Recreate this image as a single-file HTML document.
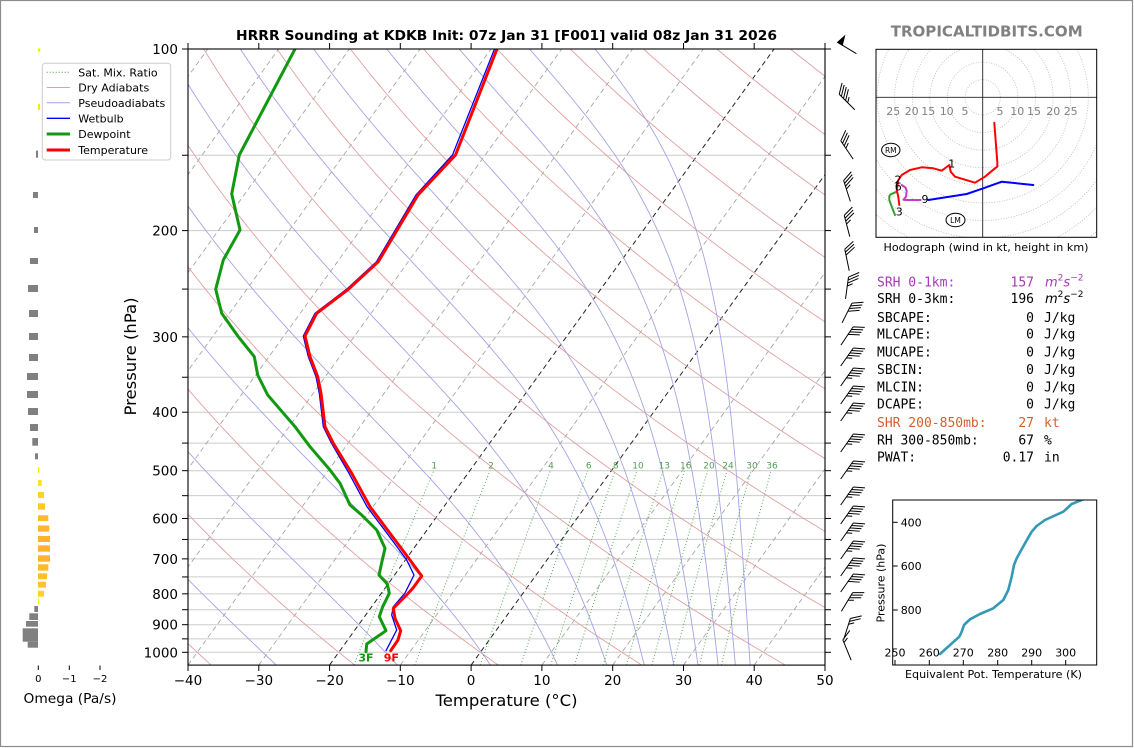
<!DOCTYPE html>
<html><head><meta charset="utf-8">
<style>
html,body{margin:0;padding:0;background:#fff;}
svg{position:absolute;left:0;top:0;}
text{font-family:"DejaVu Sans","Liberation Sans",sans-serif;}
.mono{font-family:"DejaVu Sans Mono","Liberation Mono",monospace;font-size:13px;}
</style></head><body>
<svg width="1134" height="748" viewBox="0 0 1134 748" xmlns="http://www.w3.org/2000/svg">
<defs>
<clipPath id="pc"><rect x="188" y="49" width="637" height="616.1"/></clipPath>
<clipPath id="hc"><rect x="876" y="49.3" width="220.7" height="188"/></clipPath>
<clipPath id="ic"><rect x="892.7" y="500" width="204" height="165"/></clipPath>
</defs>
<rect x="0" y="0" width="1134" height="748" fill="#fff"/>
<rect x="0.5" y="0.5" width="1132" height="746" fill="none" stroke="#8c8c8c" stroke-width="1.2"/>

<!-- pressure grid -->
<g stroke="#cccccc" stroke-width="1" clip-path="url(#pc)">
<line x1="188" x2="825" y1="155.24" y2="155.24"/><line x1="188" x2="825" y1="230.61" y2="230.61"/>
<line x1="188" x2="825" y1="289.08" y2="289.08"/><line x1="188" x2="825" y1="336.85" y2="336.85"/>
<line x1="188" x2="825" y1="377.24" y2="377.24"/><line x1="188" x2="825" y1="412.22" y2="412.22"/>
<line x1="188" x2="825" y1="443.08" y2="443.08"/><line x1="188" x2="825" y1="470.69" y2="470.69"/>
<line x1="188" x2="825" y1="495.66" y2="495.66"/><line x1="188" x2="825" y1="518.46" y2="518.46"/>
<line x1="188" x2="825" y1="539.43" y2="539.43"/><line x1="188" x2="825" y1="558.85" y2="558.85"/>
<line x1="188" x2="825" y1="576.93" y2="576.93"/><line x1="188" x2="825" y1="593.83" y2="593.83"/>
<line x1="188" x2="825" y1="609.72" y2="609.72"/><line x1="188" x2="825" y1="624.69" y2="624.69"/>
<line x1="188" x2="825" y1="638.86" y2="638.86"/><line x1="188" x2="825" y1="652.3" y2="652.3"/>
</g>
<g id="iso" clip-path="url(#pc)"></g>
<g id="dry" clip-path="url(#pc)"></g>
<g id="moist" clip-path="url(#pc)"></g>
<g id="mix" clip-path="url(#pc)"></g>

<!-- mixing ratio labels -->
<g fill="#4f9f4f" font-size="9" text-anchor="middle">
<text x="434.3" y="468.5">1</text><text x="491" y="468.5">2</text><text x="551" y="468.5">4</text>
<text x="588.7" y="468.5">6</text><text x="615.7" y="468.5">8</text><text x="638" y="468.5">10</text>
<text x="664.3" y="468.5">13</text><text x="685.7" y="468.5">16</text><text x="709" y="468.5">20</text>
<text x="728" y="468.5">24</text><text x="752" y="468.5">30</text><text x="772" y="468.5">36</text>
</g>

<!-- profiles -->
<g clip-path="url(#pc)" fill="none" stroke-linejoin="round" stroke-linecap="round">
<polyline stroke="#0000ff" stroke-width="1.3" points="494.5,49 452.5,155 416,195 376.5,261.7 346.5,289.3 315,313.3 303.3,336 308.3,356.7 316,376.7 319.3,393.3 323.3,426.7 331.5,443.3 349,473.3 367,506.7 392,540 406.7,560 414,575 405,593 393.3,606.7 391.7,615 396.7,630 386,650.7"/>
<polyline stroke="#119911" stroke-width="3" points="295,49 239.3,155 231.7,194 240,230 223.3,260 215.7,289.3 221.7,313.3 238.3,336.7 254.3,356.7 257.7,375 267.7,395 295,426.7 310,446.7 330,470 340,483.3 350,505 361.7,515 376.7,530 385,548.3 382.3,560 379,575 387.3,584 389.3,593.3 382.7,606.7 379.3,616.7 386,630.7 366.7,644 366,651.7"/>
<polyline stroke="#ff0000" stroke-width="3" points="497,49 455.5,155 418,195 378.3,261.7 348.3,289.3 316.7,313.3 305,336 310,356.7 317.7,376.7 321,393.3 325,426.7 333.3,443.3 351.7,473.3 370,506.7 395,540 410,560 421.7,576 413,588 408,593.5 393.3,608.3 395,618.3 400.7,630.7 398,640 390.7,650.7"/>
</g>
<text x="366" y="661.5" font-size="11" font-weight="bold" fill="#119911" text-anchor="middle">3F</text>
<text x="391.3" y="661.5" font-size="11" font-weight="bold" fill="#ff0000" text-anchor="middle">9F</text>

<!-- axes frame -->
<rect x="188" y="49" width="637" height="616.1" fill="none" stroke="#000" stroke-width="1.1"/>
<g stroke="#000" stroke-width="1">
<!-- left ticks -->
<line x1="182" x2="188" y1="49" y2="49"/><line x1="182" x2="188" y1="155.24" y2="155.24"/><line x1="182" x2="188" y1="230.61" y2="230.61"/>
<line x1="182" x2="188" y1="289.08" y2="289.08"/><line x1="182" x2="188" y1="336.85" y2="336.85"/><line x1="182" x2="188" y1="377.24" y2="377.24"/>
<line x1="182" x2="188" y1="412.22" y2="412.22"/><line x1="182" x2="188" y1="443.08" y2="443.08"/><line x1="182" x2="188" y1="470.69" y2="470.69"/>
<line x1="182" x2="188" y1="495.66" y2="495.66"/><line x1="182" x2="188" y1="518.46" y2="518.46"/><line x1="182" x2="188" y1="539.43" y2="539.43"/>
<line x1="182" x2="188" y1="558.85" y2="558.85"/><line x1="182" x2="188" y1="576.93" y2="576.93"/><line x1="182" x2="188" y1="593.83" y2="593.83"/>
<line x1="182" x2="188" y1="609.72" y2="609.72"/><line x1="182" x2="188" y1="624.69" y2="624.69"/><line x1="182" x2="188" y1="638.86" y2="638.86"/>
<line x1="182" x2="188" y1="652.3" y2="652.3"/>
<!-- right ticks -->
<line x1="825" x2="831" y1="49" y2="49"/><line x1="825" x2="831" y1="155.24" y2="155.24"/><line x1="825" x2="831" y1="230.61" y2="230.61"/>
<line x1="825" x2="831" y1="289.08" y2="289.08"/><line x1="825" x2="831" y1="336.85" y2="336.85"/><line x1="825" x2="831" y1="377.24" y2="377.24"/>
<line x1="825" x2="831" y1="412.22" y2="412.22"/><line x1="825" x2="831" y1="443.08" y2="443.08"/><line x1="825" x2="831" y1="470.69" y2="470.69"/>
<line x1="825" x2="831" y1="495.66" y2="495.66"/><line x1="825" x2="831" y1="518.46" y2="518.46"/><line x1="825" x2="831" y1="539.43" y2="539.43"/>
<line x1="825" x2="831" y1="558.85" y2="558.85"/><line x1="825" x2="831" y1="576.93" y2="576.93"/><line x1="825" x2="831" y1="593.83" y2="593.83"/>
<line x1="825" x2="831" y1="609.72" y2="609.72"/><line x1="825" x2="831" y1="624.69" y2="624.69"/><line x1="825" x2="831" y1="638.86" y2="638.86"/>
<line x1="825" x2="831" y1="652.3" y2="652.3"/>
<!-- bottom & top ticks -->
<line x1="188" x2="188" y1="665" y2="671"/><line x1="258.8" x2="258.8" y1="665" y2="671"/><line x1="329.6" x2="329.6" y1="665" y2="671"/>
<line x1="400.3" x2="400.3" y1="665" y2="671"/><line x1="471.1" x2="471.1" y1="665" y2="671"/><line x1="541.9" x2="541.9" y1="665" y2="671"/>
<line x1="612.7" x2="612.7" y1="665" y2="671"/><line x1="683.5" x2="683.5" y1="665" y2="671"/><line x1="754.2" x2="754.2" y1="665" y2="671"/>
<line x1="825" x2="825" y1="665" y2="671"/>
<line x1="188" x2="188" y1="43" y2="49"/><line x1="258.8" x2="258.8" y1="43" y2="49"/><line x1="329.6" x2="329.6" y1="43" y2="49"/>
<line x1="400.3" x2="400.3" y1="43" y2="49"/><line x1="471.1" x2="471.1" y1="43" y2="49"/><line x1="541.9" x2="541.9" y1="43" y2="49"/>
<line x1="612.7" x2="612.7" y1="43" y2="49"/><line x1="683.5" x2="683.5" y1="43" y2="49"/><line x1="754.2" x2="754.2" y1="43" y2="49"/>
<line x1="825" x2="825" y1="43" y2="49"/>
</g>
<g font-size="13.5" text-anchor="end" fill="#000">
<text x="178" y="54">100</text><text x="178" y="235.6">200</text><text x="178" y="341.8">300</text>
<text x="178" y="417.2">400</text><text x="178" y="475.7">500</text><text x="178" y="523.5">600</text>
<text x="178" y="563.8">700</text><text x="178" y="598.8">800</text><text x="178" y="629.7">900</text>
<text x="178" y="657.3">1000</text>
</g>
<g font-size="13.5" text-anchor="middle" fill="#000">
<text x="188" y="685">−40</text><text x="258.8" y="685">−30</text><text x="329.6" y="685">−20</text>
<text x="400.3" y="685">−10</text><text x="471.1" y="685">0</text><text x="541.9" y="685">10</text>
<text x="612.7" y="685">20</text><text x="683.5" y="685">30</text><text x="754.2" y="685">40</text>
<text x="825" y="685">50</text>
</g>
<text x="506.5" y="706" font-size="16" text-anchor="middle" textLength="142" lengthAdjust="spacingAndGlyphs">Temperature (°C)</text>
<text transform="translate(136,356.5) rotate(-90)" font-size="16" text-anchor="middle" textLength="118" lengthAdjust="spacingAndGlyphs">Pressure (hPa)</text>
<text x="506.5" y="40" font-size="13" font-weight="bold" text-anchor="middle" textLength="541" lengthAdjust="spacingAndGlyphs">HRRR Sounding at KDKB Init: 07z Jan 31 [F001] valid 08z Jan 31 2026</text>

<!-- wind barbs -->
<g id="barbs" stroke="#000" stroke-width="1" fill="none"></g>

<!-- legend -->
<rect x="42.3" y="63.3" width="128.4" height="96.7" rx="3" fill="#fff" fill-opacity="0.85" stroke="#cccccc" stroke-width="1"/>
<line x1="46.7" x2="70" y1="72.3" y2="72.3" stroke="#3d9a3d" stroke-width="1" stroke-dasharray="1,2"/>
<line x1="46.7" x2="70" y1="87.5" y2="87.5" stroke="#e2a0a0" stroke-width="1"/>
<line x1="46.7" x2="70" y1="102.8" y2="102.8" stroke="#a4a4e4" stroke-width="1"/>
<line x1="46.7" x2="70" y1="118.3" y2="118.3" stroke="#0000ff" stroke-width="1.3"/>
<line x1="46.7" x2="70" y1="134" y2="134" stroke="#119911" stroke-width="3"/>
<line x1="46.7" x2="70" y1="150" y2="150" stroke="#ff0000" stroke-width="3"/>
<g font-size="11" fill="#000">
<text x="78.3" y="76.3">Sat. Mix. Ratio</text>
<text x="78.3" y="91.5">Dry Adiabats</text>
<text x="78.3" y="106.8">Pseudoadiabats</text>
<text x="78.3" y="122.3">Wetbulb</text>
<text x="78.3" y="138">Dewpoint</text>
<text x="78.3" y="154">Temperature</text>
</g>

<!-- omega bars -->
<g fill="#808080">
<rect x="36" y="150.7" width="2" height="7"/><rect x="33" y="192" width="5" height="6"/>
<rect x="34" y="227" width="4" height="6"/><rect x="30" y="258" width="8" height="6"/>
<rect x="28" y="285" width="10" height="7"/><rect x="29" y="310" width="9" height="7"/>
<rect x="29" y="333" width="9" height="7"/><rect x="29" y="354" width="9" height="7"/>
<rect x="27" y="373" width="11" height="7"/><rect x="27" y="391" width="11" height="7"/>
<rect x="28" y="408" width="10" height="7"/><rect x="30" y="424" width="8" height="7"/>
<rect x="32.3" y="438" width="5.7" height="7.7"/><rect x="35" y="453.3" width="3" height="6"/>
<rect x="34.3" y="606" width="3.7" height="6"/><rect x="29.3" y="613.3" width="8.7" height="6.7"/>
<rect x="26" y="621" width="12" height="5.7"/><rect x="22.7" y="628.3" width="15.3" height="13.4"/>
<rect x="27.7" y="641.7" width="10.3" height="6"/>
</g>
<g>
<rect x="38" y="48.5" width="2.3" height="3" fill="#f2ee00"/>
<rect x="38" y="104" width="2" height="6" fill="#f2ee00"/>
<rect x="38" y="467" width="1.2" height="6" fill="#f5ef00"/>
<rect x="38" y="480" width="3.7" height="6" fill="#fde02a"/>
<rect x="38" y="492" width="6" height="6" fill="#ffd22a"/>
<rect x="38" y="503.3" width="7" height="6.4" fill="#ffc82a"/>
<rect x="38" y="515.3" width="10.3" height="5.7" fill="#ffba2c"/>
<rect x="38" y="525.5" width="11.3" height="6.2" fill="#ffb52d"/>
<rect x="38" y="536" width="12" height="6" fill="#ffb22e"/>
<rect x="38" y="545.3" width="12" height="6.4" fill="#ffb22e"/>
<rect x="38" y="555.3" width="12" height="6.4" fill="#ffb22e"/>
<rect x="38" y="564.3" width="10.3" height="6.4" fill="#ffba2c"/>
<rect x="38" y="573.3" width="9" height="6" fill="#ffbe2c"/>
<rect x="38" y="581.7" width="8" height="6" fill="#ffc42b"/>
<rect x="38" y="590.7" width="6" height="6" fill="#ffd22a"/>
<rect x="38" y="598.3" width="1" height="6" fill="#f5ef00"/>
</g>
<g stroke="#000" stroke-width="1">
<line x1="38.3" x2="38.3" y1="665.5" y2="670"/><line x1="69.3" x2="69.3" y1="665.5" y2="670"/><line x1="100" x2="100" y1="665.5" y2="670"/>
</g>
<g font-size="10" text-anchor="middle"><text x="38.3" y="682">0</text><text x="69.3" y="682">−1</text><text x="100" y="682">−2</text></g>
<text x="70" y="703" font-size="13.6" text-anchor="middle" textLength="93" lengthAdjust="spacingAndGlyphs">Omega (Pa/s)</text>

<!-- branding -->
<text x="986.7" y="36.5" font-size="15.5" font-weight="bold" fill="#808080" text-anchor="middle" textLength="192" lengthAdjust="spacingAndGlyphs">TROPICALTIDBITS.COM</text>

<!-- hodograph -->
<rect x="876" y="49.3" width="220.7" height="188" fill="#fff"/>
<g clip-path="url(#hc)" fill="none" stroke="#b8b8b8" stroke-width="0.8" stroke-dasharray="1,1.6">
<circle cx="982.7" cy="97.3" r="17.6"/><circle cx="982.7" cy="97.3" r="35.2"/><circle cx="982.7" cy="97.3" r="52.8"/>
<circle cx="982.7" cy="97.3" r="70.4"/><circle cx="982.7" cy="97.3" r="88"/><circle cx="982.7" cy="97.3" r="105.6"/>
<circle cx="982.7" cy="97.3" r="123.2"/><circle cx="982.7" cy="97.3" r="140.8"/><circle cx="982.7" cy="97.3" r="158.4"/>
<circle cx="982.7" cy="97.3" r="176"/><circle cx="982.7" cy="97.3" r="193.6"/><circle cx="982.7" cy="97.3" r="211.2"/>
</g>
<g stroke="#222" stroke-width="0.9">
<line x1="982.7" x2="982.7" y1="49.3" y2="237.3"/><line x1="876" x2="1096.7" y1="97.3" y2="97.3"/>
</g>
<g font-size="11" fill="#808080" text-anchor="middle">
<text x="893.3" y="115">25</text><text x="911.7" y="115">20</text><text x="928.3" y="115">15</text><text x="946.7" y="115">10</text><text x="965" y="115">5</text>
<text x="1000" y="115">5</text><text x="1017.3" y="115">10</text><text x="1034" y="115">15</text><text x="1053.3" y="115">20</text><text x="1070.7" y="115">25</text>
</g>
<g clip-path="url(#hc)" fill="none" stroke-width="2" stroke-linejoin="round" stroke-linecap="round">
<polyline stroke="#0000ff" points="928.3,200 966.7,194 983.3,188.3 1001.7,181.7 1033.3,185"/>
<polyline stroke="#33a033" points="896.7,191.7 890.7,194.3 889.3,196 889.3,200 891.7,206.7 893,210 895,215"/>
<polyline stroke="#c040c0" points="901.7,185 905.5,187.5 906.7,191 906,196.7 903.5,199.7 906,200 920.7,200"/>
<polyline stroke="#ff0000" points="994.3,122.7 997.3,162 997.3,166.7 995,168.3 985,176.7 975,182.7 955,176.7 950.7,171.7 949.3,165 941.7,170.7 933.3,168.3 921.7,167.3 910,170 901.7,175 898.3,180 896.7,190 898.3,196.7 899.3,205"/>
</g>
<g font-size="11" fill="#000" text-anchor="middle">
<text x="951.7" y="167.7">1</text><text x="898" y="183.3">2</text><text x="898.3" y="190.7">6</text>
<text x="899.3" y="215.3">3</text><text x="925" y="202.8">9</text>
</g>
<ellipse cx="890.8" cy="150" rx="9.2" ry="6.7" fill="#fff" stroke="#000" stroke-width="1"/>
<text x="890.8" y="152.8" font-size="7.5" text-anchor="middle">RM</text>
<ellipse cx="955.5" cy="220" rx="9.5" ry="6.7" fill="#fff" stroke="#000" stroke-width="1"/>
<text x="955.5" y="222.8" font-size="7.5" text-anchor="middle">LM</text>
<rect x="876" y="49.3" width="220.7" height="188" fill="none" stroke="#000" stroke-width="1"/>
<text x="986" y="251" font-size="11" text-anchor="middle" textLength="205" lengthAdjust="spacingAndGlyphs">Hodograph (wind in kt, height in km)</text>

<!-- stats -->
<g class="mono">
<text class="mono" x="877" y="286.4" fill="#a03cb0">SRH 0-1km:</text>
<text class="mono" x="1034" y="286.4" fill="#a03cb0" text-anchor="end">157</text>
<text x="1045" y="286.4" font-size="13" fill="#a03cb0"><tspan font-style="italic">m</tspan><tspan dy="-6" font-size="9">2</tspan><tspan dy="6" font-style="italic">s</tspan><tspan dy="-6" font-size="9">−2</tspan></text>
<text class="mono" x="877" y="303" fill="#000">SRH 0-3km:</text>
<text class="mono" x="1034" y="303" text-anchor="end">196</text>
<text x="1045" y="303" font-size="13"><tspan font-style="italic">m</tspan><tspan dy="-6" font-size="9">2</tspan><tspan dy="6" font-style="italic">s</tspan><tspan dy="-6" font-size="9">−2</tspan></text>
<text class="mono" x="877" y="322">SBCAPE:</text><text class="mono" x="1034" y="322" text-anchor="end">0</text><text class="mono" x="1044" y="322">J/kg</text>
<text class="mono" x="877" y="338.7">MLCAPE:</text><text class="mono" x="1034" y="338.7" text-anchor="end">0</text><text class="mono" x="1044" y="338.7">J/kg</text>
<text class="mono" x="877" y="356.4">MUCAPE:</text><text class="mono" x="1034" y="356.4" text-anchor="end">0</text><text class="mono" x="1044" y="356.4">J/kg</text>
<text class="mono" x="877" y="374">SBCIN:</text><text class="mono" x="1034" y="374" text-anchor="end">0</text><text class="mono" x="1044" y="374">J/kg</text>
<text class="mono" x="877" y="391.4">MLCIN:</text><text class="mono" x="1034" y="391.4" text-anchor="end">0</text><text class="mono" x="1044" y="391.4">J/kg</text>
<text class="mono" x="877" y="408.7">DCAPE:</text><text class="mono" x="1034" y="408.7" text-anchor="end">0</text><text class="mono" x="1044" y="408.7">J/kg</text>
<text class="mono" x="877" y="427" fill="#d2602e">SHR 200-850mb:</text><text class="mono" x="1034" y="427" text-anchor="end" fill="#d2602e">27</text><text class="mono" x="1044" y="427" fill="#d2602e">kt</text>
<text class="mono" x="877" y="444.7">RH 300-850mb:</text><text class="mono" x="1034" y="444.7" text-anchor="end">67</text><text class="mono" x="1044" y="444.7">%</text>
<text class="mono" x="877" y="461.4">PWAT:</text><text class="mono" x="1034" y="461.4" text-anchor="end">0.17</text><text class="mono" x="1044" y="461.4">in</text>
</g>

<!-- theta-e inset -->
<g clip-path="url(#ic)">
<polyline fill="none" stroke="#3399b4" stroke-width="2.6" stroke-linejoin="round" stroke-linecap="round" points="940,654 959.3,636.7 961.7,631.7 964,625 970,619.3 980,614 993.3,608.3 1003.3,600 1008.3,590 1011.7,576.7 1014,565 1016.7,558.3 1025,543.3 1031.7,531.7 1036.7,526 1045,520 1063.3,511.7 1071.7,504 1080,500.7 1090,496"/>
</g>
<rect x="892.7" y="500" width="204" height="165" fill="none" stroke="#000" stroke-width="1"/>
<g stroke="#000" stroke-width="1">
<line x1="892.7" x2="897.7" y1="522.3" y2="522.3"/><line x1="892.7" x2="897.7" y1="566" y2="566"/><line x1="892.7" x2="897.7" y1="610" y2="610"/>
<line x1="895" x2="895" y1="660" y2="665"/><line x1="929.3" x2="929.3" y1="660" y2="665"/><line x1="963.3" x2="963.3" y1="660" y2="665"/>
<line x1="997.7" x2="997.7" y1="660" y2="665"/><line x1="1031.7" x2="1031.7" y1="660" y2="665"/><line x1="1065.7" x2="1065.7" y1="660" y2="665"/>
</g>
<g font-size="11" text-anchor="end"><text x="921.7" y="526.3">400</text><text x="921.7" y="570">600</text><text x="921.7" y="614">800</text></g>
<g font-size="11" text-anchor="middle">
<text x="895" y="656.7">250</text><text x="929.3" y="656.7">260</text><text x="963.3" y="656.7">270</text>
<text x="997.7" y="656.7">280</text><text x="1031.7" y="656.7">290</text><text x="1065.7" y="656.7">300</text>
</g>
<text x="993.5" y="678" font-size="11" text-anchor="middle" textLength="177" lengthAdjust="spacingAndGlyphs">Equivalent Pot. Temperature (K)</text>
<text transform="translate(884.5,583) rotate(-90)" font-size="11" text-anchor="middle">Pressure (hPa)</text>
</svg>

<script>
(function(){
var NS='http://www.w3.org/2000/svg';
var YB=665.08;
function py(p){return 49+603.3*Math.log10(p/100);}
function tx(T,p){return 188+(T+40)*7.078+0.7215*(YB-py(p));}
function esat(Tc){return 6.112*Math.exp(17.67*Tc/(Tc+243.5));}
function add(id,pts,attrs){
  var g=document.getElementById(id);
  var e=document.createElementNS(NS,'polyline');
  e.setAttribute('points',pts.map(function(q){return q[0].toFixed(2)+','+q[1].toFixed(2);}).join(' '));
  e.setAttribute('fill','none');
  for(var k in attrs)e.setAttribute(k,attrs[k]);
  g.appendChild(e);
}
var P=[];for(var p=1050;p>=100;p-=10)P.push(p);
for(var T=-100;T<=50;T+=10){
  var blk=(T===0||T===-20);
  add('iso',[[tx(T,1050),YB],[tx(T,100),49]],{stroke:blk?'#222':'#a6a6a6','stroke-width':blk?1:0.9,'stroke-dasharray':'5,3.5'});
}
for(var th=-40;th<=240;th+=20){
  (function(K){
    add('dry',P.map(function(p){return [tx(K*Math.pow(p/1000,0.2857)-273.15,p),py(p)];}),{stroke:'#e2a0a0','stroke-width':0.9});
  })(th+273.15);
}
function thetae(Tk,p){var e=esat(Tk-273.15); if(e>=0.6*p) return 1e9; var rs=0.622*e/(p-e); return Tk*Math.pow(1000/p,0.2857)*Math.exp(2.5e6*rs/(1005*Tk));}
for(var te=-30;te<=170;te+=20){
  (function(K){
    var pts=P.map(function(p){var lo=120,hi=345;for(var i=0;i<50;i++){var m=(lo+hi)/2; if(thetae(m,p)<K)lo=m; else hi=m;} return [tx(lo-273.15,p),py(p)];});
    add('moist',pts,{stroke:'#a4a4e4','stroke-width':0.9});
  })(te+273.15);
}
var W=[1,2,4,6,8,10,13,16,20,24,30,36];
W.forEach(function(w){
  var pts=[];for(var p=1050;p>=500;p-=25){var e=w/1000*p/(0.622+w/1000);var l=Math.log(e/6.112);var Td=243.5*l/(17.67-l);pts.push([tx(Td,p),py(p)]);}
  add('mix',pts,{stroke:'#3d9a3d','stroke-width':1,'stroke-dasharray':'1,2.2','stroke-opacity':0.85});
});
var B=[[48,-0.857,-0.514,50],[102,-0.707,-0.707,45],[150,-0.562,-0.827,35],[191,-0.306,-0.952,35],[226,-0.251,-0.968,35],[260,-0.204,-0.979,30],[288,0.135,-0.991,35],[313,0.447,-0.894,40],[336,0.555,-0.832,40],[357,0.574,-0.819,45],[377,0.574,-0.819,45],[395,0.574,-0.819,45],[412,0.574,-0.819,45],[443,0.574,-0.819,45],[470,0.574,-0.819,45],[496,0.574,-0.819,45],[515,0.574,-0.819,45],[532,0.574,-0.819,45],[550,0.574,-0.819,45],[567,0.574,-0.819,45],[583,0.574,-0.819,40],[602,0.514,-0.857,35],[629,0.303,-0.953,25],[650,-0.379,-0.925,15]];
var gb=document.getElementById('barbs');
B.forEach(function(b){
  var cx=847,cy=b[0],dx=b[1],dy=b[2],spd=b[3];
  var L=22,H=10,Tt=6,S=3,Wp=5.5,Hp=9;
  var bx=cx-dx*L/2,by=cy-dy*L/2,ex=cx+dx*L/2,ey=cy+dy*L/2,px=-dy,pyy=dx;
  var d='M'+bx.toFixed(2)+','+by.toFixed(2)+'L'+ex.toFixed(2)+','+ey.toFixed(2);
  var fl='';
  var n50=Math.floor(spd/50),r=spd%50,n10=Math.floor(r/10),n5=(r%10)>=5?1:0,off=0,i,ax,ay;
  for(i=0;i<n50;i++){ax=ex-dx*off;ay=ey-dy*off;fl+='M'+ax+','+ay+'L'+(ax+px*Hp-dx*Wp/2)+','+(ay+pyy*Hp-dy*Wp/2)+'L'+(ax-dx*Wp)+','+(ay-dy*Wp)+'Z';off+=Wp+S/2;}
  for(i=0;i<n10;i++){ax=ex-dx*off;ay=ey-dy*off;d+='M'+ax+','+ay+'L'+(ax+px*H+dx*Tt)+','+(ay+pyy*H+dy*Tt);off+=S;}
  if(n5){if(off===0)off=S;ax=ex-dx*off;ay=ey-dy*off;d+='M'+ax+','+ay+'L'+(ax+px*H/2+dx*Tt/2)+','+(ay+pyy*H/2+dy*Tt/2);}
  var e=document.createElementNS(NS,'path');e.setAttribute('d',d);gb.appendChild(e);
  if(fl){var f=document.createElementNS(NS,'path');f.setAttribute('d',fl);f.setAttribute('fill','#000');gb.appendChild(f);}
});
})();
</script>
</body></html>
